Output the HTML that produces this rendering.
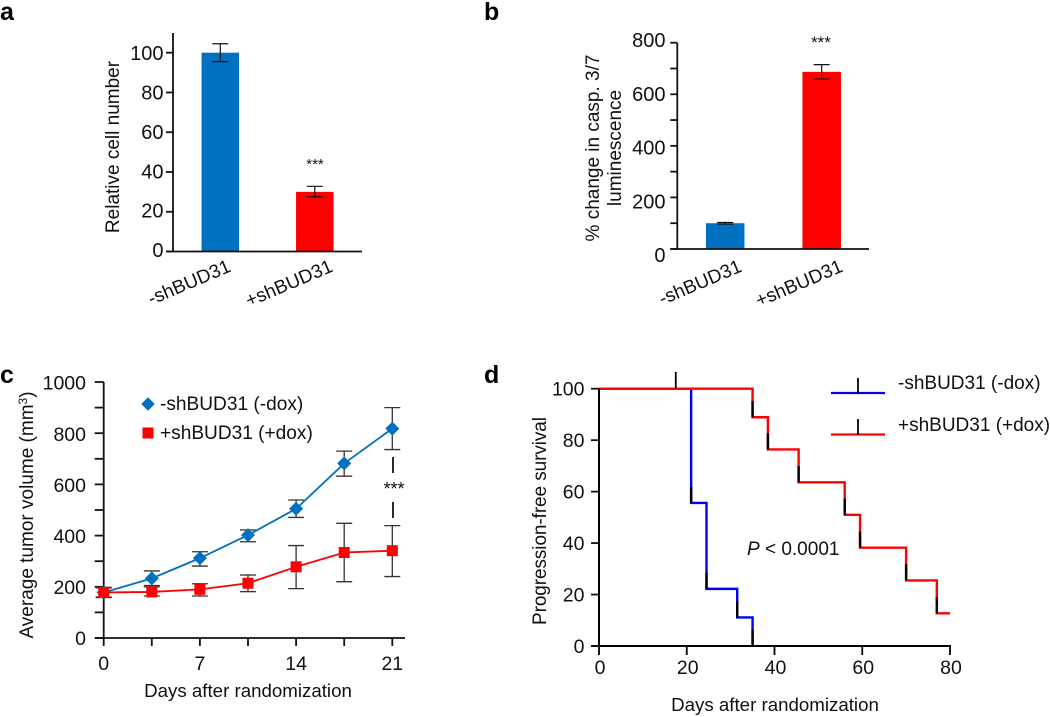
<!DOCTYPE html>
<html>
<head>
<meta charset="utf-8">
<style>
html,body{margin:0;padding:0;background:#fff;width:1050px;height:717px;overflow:hidden}
svg{display:block;font-family:"Liberation Sans",Arial,sans-serif;fill:#111;filter:blur(0.3px)}
</style>
</head>
<body>
<svg id="fig" width="1050" height="717" viewBox="0 0 1050 717" xmlns="http://www.w3.org/2000/svg">
<text x="0" y="20" font-size="25" font-weight="bold" fill="#000">a</text>
<text x="484" y="20" font-size="25" font-weight="bold" fill="#000">b</text>
<text x="0" y="383" font-size="25" font-weight="bold" fill="#000">c</text>
<text x="484" y="383" font-size="25" font-weight="bold" fill="#000">d</text>
<text transform="translate(119,147) rotate(-90)" text-anchor="middle" font-size="19">Relative cell number</text>
<text transform="translate(599,148) rotate(-90)" text-anchor="middle" font-size="19">% change in casp. 3/7</text>
<text transform="translate(621,148) rotate(-90)" text-anchor="middle" font-size="19">luminescence</text>
<text transform="translate(33,515) rotate(-90)" text-anchor="middle" font-size="19">Average tumor volume (mm<tspan font-size="12" dy="-6">3</tspan><tspan dy="6">)</tspan></text>
<text x="248" y="697" text-anchor="middle" font-size="18.7">Days after randomization</text>
<text transform="translate(546,521) rotate(-90)" text-anchor="middle" font-size="19" textLength="208">Progression-free survival</text>
<text x="775" y="711" text-anchor="middle" font-size="18.7">Days after randomization</text>
<text x="315" y="169" text-anchor="middle" font-size="15">***</text>
<text x="821" y="48" text-anchor="middle" font-size="17">***</text>
<text x="394" y="495" text-anchor="middle" font-size="18">***</text>
<text x="747" y="555" font-size="19"><tspan font-style="italic">P</tspan> &lt; 0.0001</text>
<text x="160" y="410" font-size="19.1">-shBUD31 (-dox)</text>
<text x="160" y="439" font-size="19.1">+shBUD31 (+dox)</text>
<text x="898" y="389" font-size="19">-shBUD31 (-dox)</text>
<text x="898" y="431" font-size="19">+shBUD31 (+dox)</text>
</svg>
<script>
// Panel a
const barCategories = ['-shBUD31', '+shBUD31'];
const aValues = [100, 30];
const aErrLow = [95.5, 27.5];
const aErrHigh = [104.5, 32.8];
const aTicks = [0, 20, 40, 60, 80, 100];
// Panel b
const bValues = [100, 687];
const bErrLow = [97, 659];
const bErrHigh = [103, 715];
const bTicks = [0, 100, 200, 300, 400, 500, 600, 700, 800];
const bTickLabels = ['0', '', '200', '', '400', '', '600', '', '800'];
// Panel c
const cDays = [0, 3.5, 7, 10.5, 14, 17.5, 21];
const cMinus = [178, 233, 312, 402, 505, 682, 818];
const cMinusLow = [160, 205, 281, 376, 471, 632, 736];
const cMinusHigh = [196, 262, 337, 422, 539, 730, 900];
const cPlus = [178, 180, 190, 214, 278, 334, 341];
const cPlusLow = [158, 164, 164, 181, 193, 220, 240];
const cPlusHigh = [198, 200, 212, 246, 361, 448, 439];
const cYTicks = [0, 100, 200, 300, 400, 500, 600, 700, 800, 900, 1000];
const cYLabels = ['0', '', '200', '', '400', '', '600', '', '800', '', '1000'];
const cXLabels = ['0', '', '7', '', '14', '', '21'];
// Panel d
const dMinusTimes = [0, 21, 24.5, 31.5, 35];
const dMinusSurv = [100, 55.6, 22.2, 11.1, 0];
const dPlusTimes = [0, 35, 38.5, 45.5, 56, 59.5, 70, 77, 80];
const dPlusSurv = [100, 88.9, 76.4, 63.6, 51, 38.2, 25.5, 12.7, 12.7];
const dCensorTime = [17.5];
const dXTicks = [0, 20, 40, 60, 80];
const dYTicks = [0, 20, 40, 60, 80, 100];

const svg = document.getElementById('fig');
const NS = 'http://www.w3.org/2000/svg';
const BLUE = '#0070c0', RED = '#ff0000', INK = '#111111', KM_BLUE = '#0000ff';

function scale(d0, d1, r0, r1) {
  return v => r0 + (v - d0) * (r1 - r0) / (d1 - d0);
}
function add(tag, name, attrs, txt) {
  const el = document.createElementNS(NS, tag);
  
  
  for (const k in attrs) el.setAttribute(k, attrs[k]);
  if (txt !== undefined) el.textContent = txt;
  svg.appendChild(el);
  return el;
}
function line(name, x1, y1, x2, y2, color, w) {
  return add('line', name, {x1, y1, x2, y2, stroke: color, 'stroke-width': w});
}
// labelY maps a tick value to the vertical centre of its printed label
function tickY(prefix, x, y, tickLen, ticks, labels, labelRight, labelY, fs) {
  ticks.forEach((t, i) => {
    line(prefix + '-y-tick', x - tickLen, y(t), x, y(t), INK, 1.8);
    if (labels[i] !== '') {
      add('text', prefix + '-y-tick-label', {x: labelRight, y: labelY(t) + fs * 0.36, 'text-anchor': 'end', 'font-size': fs}, labels[i]);
    }
  });
}
function errorBar(name, x, yLow, yHigh, half, color, w) {
  line(name + '-stem', x, yLow, x, yHigh, color, w);
  line(name + '-cap-low', x - half, yLow, x + half, yLow, color, w);
  line(name + '-cap-high', x - half, yHigh, x + half, yHigh, color, w);
}
function barPanel(prefix, cfg, values, low, high) {
  const y = cfg.y;
  values.forEach((v, i) => {
    const c = cfg.centers[i];
    add('rect', prefix + '-bar-' + (i ? 'plus' : 'minus'), {x: c - cfg.barW / 2, y: y(v), width: cfg.barW, height: y(0) - y(v), fill: i ? RED : BLUE});
    errorBar(prefix + '-error-bar-' + i, c, y(low[i]), y(high[i]), 8, INK, 1.2);
    add('text', prefix + '-x-tick-label', {transform: 'translate(' + cfg.lab[i] + ',' + cfg.labY + ') rotate(-23)', 'text-anchor': 'end', 'font-size': 19}, barCategories[i]);
  });
  line(prefix + '-y-axis', cfg.x0, cfg.top, cfg.x0, y(0) + 0.9, INK, 1.8);
  line(prefix + '-x-axis', cfg.x0 - 7, y(0), cfg.xEnd, y(0), INK, 1.8);
}

// Panel a
const ya = scale(0, 100, 251.5, 52.7);
barPanel('a', {y: ya, x0: 173, top: 33, xEnd: 362, centers: [220.3, 314.8], barW: 37.5, lab: [232, 334], labY: 271}, aValues, aErrLow, aErrHigh);
tickY('a', 173, ya, 7, aTicks, aTicks.map(String), 163.5, scale(0, 100, 250, 52.7), 20);

// Panel b
const yb = scale(0, 800, 249, 42.7);
barPanel('b', {y: yb, x0: 677.3, top: 42.7, xEnd: 869, centers: [725.2, 821.7], barW: 38.5, lab: [743, 844], labY: 271}, bValues, bErrLow, bErrHigh);
tickY('b', 677.3, yb, 7, bTicks, bTickLabels, 665.5, scale(0, 800, 255, 40), 20);

// Panel c
const xc = scale(0, 21, 103.7, 392.3);
const yc = scale(0, 1000, 638, 382);
tickY('c', 103.7, yc, 9, cYTicks, cYLabels, 86, scale(0, 1000, 638, 382.7), 19.5);
line('c-y-axis', 103.7, 382, 103.7, 638.9, INK, 1.8);
line('c-x-axis', 95, 638, 405, 638, INK, 1.8);
cDays.forEach((d, i) => {
  line('c-x-tick', xc(d), 638, xc(d), 646, INK, 1.8);
  if (cXLabels[i] !== '') add('text', 'c-x-tick-label', {x: xc(d), y: 670, 'text-anchor': 'middle', 'font-size': 19.5}, cXLabels[i]);
});
line('c-significance-dash-upper', 393, 457, 393, 473, INK, 1.8);
line('c-significance-dash-lower', 393, 502, 393, 518, INK, 1.8);
cDays.forEach((d, i) => {
  errorBar('c-minus-error-bar', xc(d), yc(cMinusLow[i]), yc(cMinusHigh[i]), 8, '#333', 1.3);
});
add('polyline', 'c-minus-line', {points: cDays.map((d, i) => xc(d) + ',' + yc(cMinus[i])).join(' '), fill: 'none', stroke: BLUE, 'stroke-width': 1.8});
function diamond(name, cx, cy, r) {
  add('polygon', name, {points: [[cx, cy - r], [cx + r, cy], [cx, cy + r], [cx - r, cy]].map(p => p.join(',')).join(' '), fill: BLUE});
}
cDays.forEach((d, i) => diamond('c-minus-point', xc(d), yc(cMinus[i]), 7));
cDays.forEach((d, i) => {
  errorBar('c-plus-error-bar', xc(d), yc(cPlusLow[i]), yc(cPlusHigh[i]), 8, '#333', 1.3);
});
add('polyline', 'c-plus-line', {points: cDays.map((d, i) => xc(d) + ',' + yc(cPlus[i])).join(' '), fill: 'none', stroke: RED, 'stroke-width': 1.8});
cDays.forEach((d, i) => {
  add('rect', 'c-plus-point', {x: xc(d) - 5.5, y: yc(cPlus[i]) - 5.5, width: 11, height: 11, fill: RED});
});
diamond('c-legend-diamond', 148, 404, 6.7);
add('rect', 'c-legend-square', {x: 142.5, y: 427.5, width: 11, height: 11, fill: RED});

// Panel d
const xd = scale(0, 80, 599, 950);
const yd = scale(0, 100, 646, 388.7);
function km(name, times, surv, color) {
  let pts = [];
  times.forEach((t, i) => {
    if (i > 0) pts.push(xd(t) + ',' + yd(surv[i - 1]));
    pts.push(xd(t) + ',' + yd(surv[i]));
  });
  add('polyline', name, {points: pts.join(' '), fill: 'none', stroke: color, 'stroke-width': 2.4});
  times.forEach((t, i) => {
    if (i > 0 && surv[i] < surv[i - 1]) {
      line(name + '-event-mark', xd(t), yd(surv[i]), xd(t), yd(surv[i] + 6.3), '#000', 2.4);
    }
  });
}
km('d-minus-curve', dMinusTimes, dMinusSurv, KM_BLUE);
km('d-plus-curve', dPlusTimes, dPlusSurv, RED);
dCensorTime.forEach(t => line('d-censor-mark', xd(t), yd(100), xd(t), yd(106.5), '#000', 1.8));
line('d-y-axis', 599, 388.7, 599, 647, '#000', 2);
line('d-x-axis', 591, 646, 951, 646, '#000', 2);
dXTicks.forEach(t => {
  line('d-x-tick', xd(t), 646, xd(t), 655, '#000', 1.8);
  add('text', 'd-x-tick-label', {x: xd(t) + 1, y: 674, 'text-anchor': 'middle', 'font-size': 19.5}, String(t));
});
tickY('d', 599, yd, 8, dYTicks, dYTicks.map(String), 584.5, yd, 19.5);
line('d-legend-line-minus', 831, 393, 885, 393, KM_BLUE, 2.2);
line('d-legend-mark-minus', 858, 378, 858, 394, '#000', 1.8);
line('d-legend-line-plus', 831, 434.5, 885, 434.5, RED, 2.2);
line('d-legend-mark-plus', 858, 419, 858, 435, '#000', 1.8);
</script>
</body>
</html>
